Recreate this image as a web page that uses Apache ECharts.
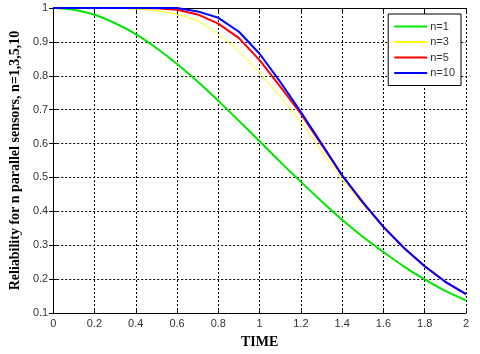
<!DOCTYPE html>
<html>
<head>
<meta charset="utf-8">
<script src="https://cdn.jsdelivr.net/npm/echarts@6/dist/echarts.min.js"></script>
<style>
  html, body { margin: 0; padding: 0; background: #fff; }
  #chart { width: 480px; height: 354px; }
</style>
</head>
<body>
<div id="chart"></div>
<script>
// time axis, step 0.1
const time = [0, 0.1, 0.2, 0.3, 0.4, 0.5, 0.6, 0.7, 0.8, 0.9, 1.0,
  1.1, 1.2, 1.3, 1.4, 1.5, 1.6, 1.7, 1.8, 1.9, 2.0];

// values
const n1 = [1, 0.995, 0.98, 0.955, 0.923, 0.882, 0.835, 0.783, 0.726, 0.667, 0.607,
  0.546, 0.487, 0.43, 0.375, 0.325, 0.28, 0.237, 0.199, 0.165, 0.137];
const n3 = [1, 1, 1, 0.999, 0.997, 0.992, 0.981, 0.961, 0.922, 0.872, 0.808,
  0.738, 0.664, 0.578, 0.494, 0.42, 0.352, 0.292, 0.237, 0.192, 0.156];
const n5 = [1, 1, 1, 1, 1, 0.999, 0.995, 0.981, 0.954, 0.911, 0.846,
  0.768, 0.688, 0.597, 0.505, 0.426, 0.354, 0.292, 0.238, 0.192, 0.156];
const n10 = [1, 1, 1, 1, 1, 1, 1, 0.99, 0.971, 0.93, 0.865,
  0.782, 0.693, 0.6, 0.506, 0.427, 0.354, 0.292, 0.238, 0.192, 0.156];

const xTicks = [0, 0.2, 0.4, 0.6, 0.8, 1, 1.2, 1.4, 1.6, 1.8, 2];
const yTicks = [0.1, 0.2, 0.3, 0.4, 0.5, 0.6, 0.7, 0.8, 0.9, 1];

const pairs = arr => time.map((t, i) => [t, arr[i]]);
const fmt = v => String(+v.toFixed(1));

let myChart = echarts.init(document.getElementById("chart"));
const gridLine = { show: true, lineStyle: { color: "#000", type: [2, 2], width: 1 } };
const tickFont = { fontFamily: "Liberation Sans", fontSize: 11, color: "#333" };
const nameFont = { fontFamily: "Liberation Serif", fontWeight: "bold", fontSize: 14, color: "#000" };

myChart.setOption({
  animation: false,
  backgroundColor: "#fff",
  grid: { left: 39, right: 14, top: 8, bottom: 35 },
  legend: {
    orient: "vertical",
    right: 19,
    top: 14,
    backgroundColor: "#fff",
    borderColor: "#000",
    borderWidth: 1,
    padding: [7, 6, 7, 6],
    itemGap: 4.5,
    itemWidth: 33,
    itemHeight: 2,
    icon: "rect",
    textStyle: { fontFamily: "Liberation Sans", fontSize: 11, color: "#333", padding: [0, 0, 0, -2] },
    data: ["n=1", "n=3", "n=5", "n=10"],
  },
  xAxis: [
    {
      type: "value",
      min: 0,
      max: 2,
      interval: 0.2,
      name: "TIME",
      nameLocation: "middle",
      nameGap: 22,
      nameTextStyle: nameFont,
      axisLine: { show: true, lineStyle: { color: "#000" } },
      axisTick: { show: true, inside: true, length: 4, lineStyle: { color: "#000" } },
      axisLabel: Object.assign({ margin: 5, formatter: fmt }, tickFont),
      splitLine: gridLine,
    },
    {
      type: "value",
      position: "top",
      min: 0,
      max: 2,
      interval: 0.2,
      axisLine: { show: true, lineStyle: { color: "#000" } },
      axisTick: { show: true, inside: true, length: 4, lineStyle: { color: "#000" } },
      axisLabel: { show: false },
      splitLine: { show: false },
    },
  ],
  yAxis: [
    {
      type: "value",
      min: 0.1,
      max: 1,
      interval: 0.1,
      name: "Reliability for n parallel sensors, n=1,3,5,10",
      nameLocation: "middle",
      nameGap: 29,
      nameTextStyle: nameFont,
      axisLine: { show: true, lineStyle: { color: "#000" } },
      axisTick: { show: true, inside: true, length: 4, lineStyle: { color: "#000" } },
      axisLabel: Object.assign({ margin: 5, formatter: fmt }, tickFont),
      splitLine: gridLine,
    },
    {
      type: "value",
      position: "right",
      min: 0.1,
      max: 1,
      interval: 0.1,
      axisLine: { show: true, lineStyle: { color: "#000" } },
      axisTick: { show: true, inside: true, length: 4, lineStyle: { color: "#000" } },
      axisLabel: { show: false },
      splitLine: { show: false },
    },
  ],
  series: [
    {
      name: "n=1",
      type: "line",
      symbol: "none",
      smooth: 0.3,
      lineStyle: { color: "#00e600", width: 2 },
      itemStyle: { color: "#00e600" },
      data: pairs(n1),
    },
    {
      name: "n=3",
      type: "line",
      symbol: "none",
      smooth: 0.3,
      lineStyle: { color: "#ffff00", width: 1 },
      itemStyle: { color: "#ffff00" },
      data: pairs(n3),
    },
    {
      name: "n=5",
      type: "line",
      symbol: "none",
      lineStyle: { color: "#ff0000", width: 2 },
      itemStyle: { color: "#ff0000" },
      data: pairs(n5),
    },
    {
      name: "n=10",
      type: "line",
      symbol: "none",
      lineStyle: { color: "#0000ff", width: 2 },
      itemStyle: { color: "#0000ff" },
      data: pairs(n10),
    },
  ],
});
</script>
</body>
</html>
